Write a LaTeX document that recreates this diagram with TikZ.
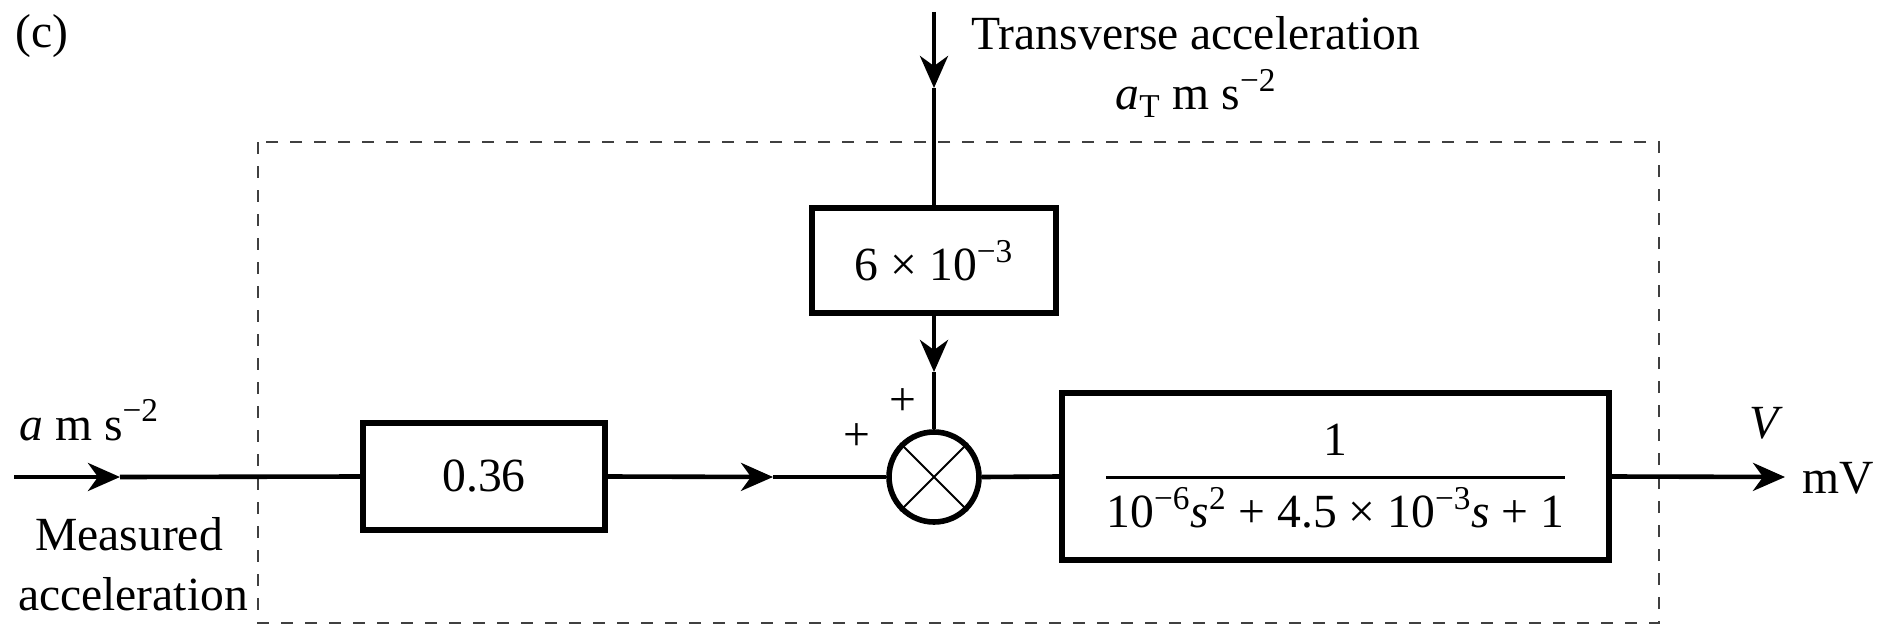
\documentclass[tikz,border=0pt]{standalone}
\usepackage{fontspec}
\setmainfont{Liberation Serif}
\usetikzlibrary{arrows.meta}
\begin{document}
\begin{tikzpicture}[x=0.5pt,y=-0.5pt,
  font=\fontsize{23.8}{28}\selectfont,
  blk/.style={draw, line width=2.8pt, inner sep=0pt},
  sumc/.style={draw, circle, line width=2.8pt, inner sep=0pt, minimum size=45pt},
  lbl/.style={inner sep=0pt},
  conn/.style={line width=2.3pt},
  arr/.style={-{Stealth[length=16pt,width=14pt,inset=5pt]}},
  dashbox/.style={line width=1.4pt, draw=black!75, dash pattern=on 6pt off 6pt}]
\useasboundingbox (0,0) rectangle (1877,626);
\draw[dashbox] (258,142) rectangle (1659,623);
\node[lbl] (c) at (42,36) {(c)};
\node[blk, minimum width=121pt, minimum height=53.5pt] (b1) at (484,476.5) {0.36};
\node[sumc] (sum) at (934,477) {};
\node[blk, minimum width=122pt, minimum height=52.5pt] (b2) at (934,260.5) {6 × 10\textsuperscript{−3}};
\node[blk, minimum width=273.5pt, minimum height=83.5pt] (b3) at (1335.5,476.5)
  {$\displaystyle{\hbox{1}\above 1.5pt\hbox{10\textsuperscript{−6}\textit{s}\textsuperscript{2} + 4.5 × 10\textsuperscript{−3}\textit{s} + 1}}$};
\node[lbl, anchor=base] (tl1) at (1196,50) {Transverse acceleration};
\node[lbl, anchor=base] (tl2) at (1196,110) {\textit{a}\textsubscript{T} m s\textsuperscript{−2}};
\node[lbl, anchor=base west] (il) at (19,440) {\textit{a} m s\textsuperscript{−2}};
\node[lbl, anchor=base] (m1) at (129,550) {Measured};
\node[lbl, anchor=base] (m2) at (133,610) {acceleration};
\node[lbl] (p1) at (903,402) {+};
\node[lbl] (p2) at (857,437) {+};
\node[lbl, anchor=base] (vl) at (1766,438) {\textit{V}};
\node[lbl, anchor=base west] (mv) at (1802,493) {mV};
\coordinate (in) at (14,477);
\coordinate (ina) at (120,477);
\coordinate (m12) at (773,477);
\coordinate (top) at (934,12);
\coordinate (topa) at (934,88);
\coordinate (m2s) at (934,372);
\coordinate (out) at (1785,477);
\draw[conn,arr] (in) -- (ina);
\draw[conn] (ina) -- (b1.west);
\draw[conn,arr] (b1.east) -- (m12);
\draw[conn] (m12) -- (sum.west);
\draw[conn,arr] (top) -- (topa);
\draw[conn] (topa) -- (b2.north);
\draw[conn,arr] (b2.south) -- (m2s);
\draw[conn] (m2s) -- (sum.north);
\draw[conn] (sum.east) -- (b3.west);
\draw[conn,arr] (b3.east) -- (out);
\draw[line width=1pt] (sum.north west) -- (sum.south east) (sum.north east) -- (sum.south west);
\end{tikzpicture}
\end{document}
